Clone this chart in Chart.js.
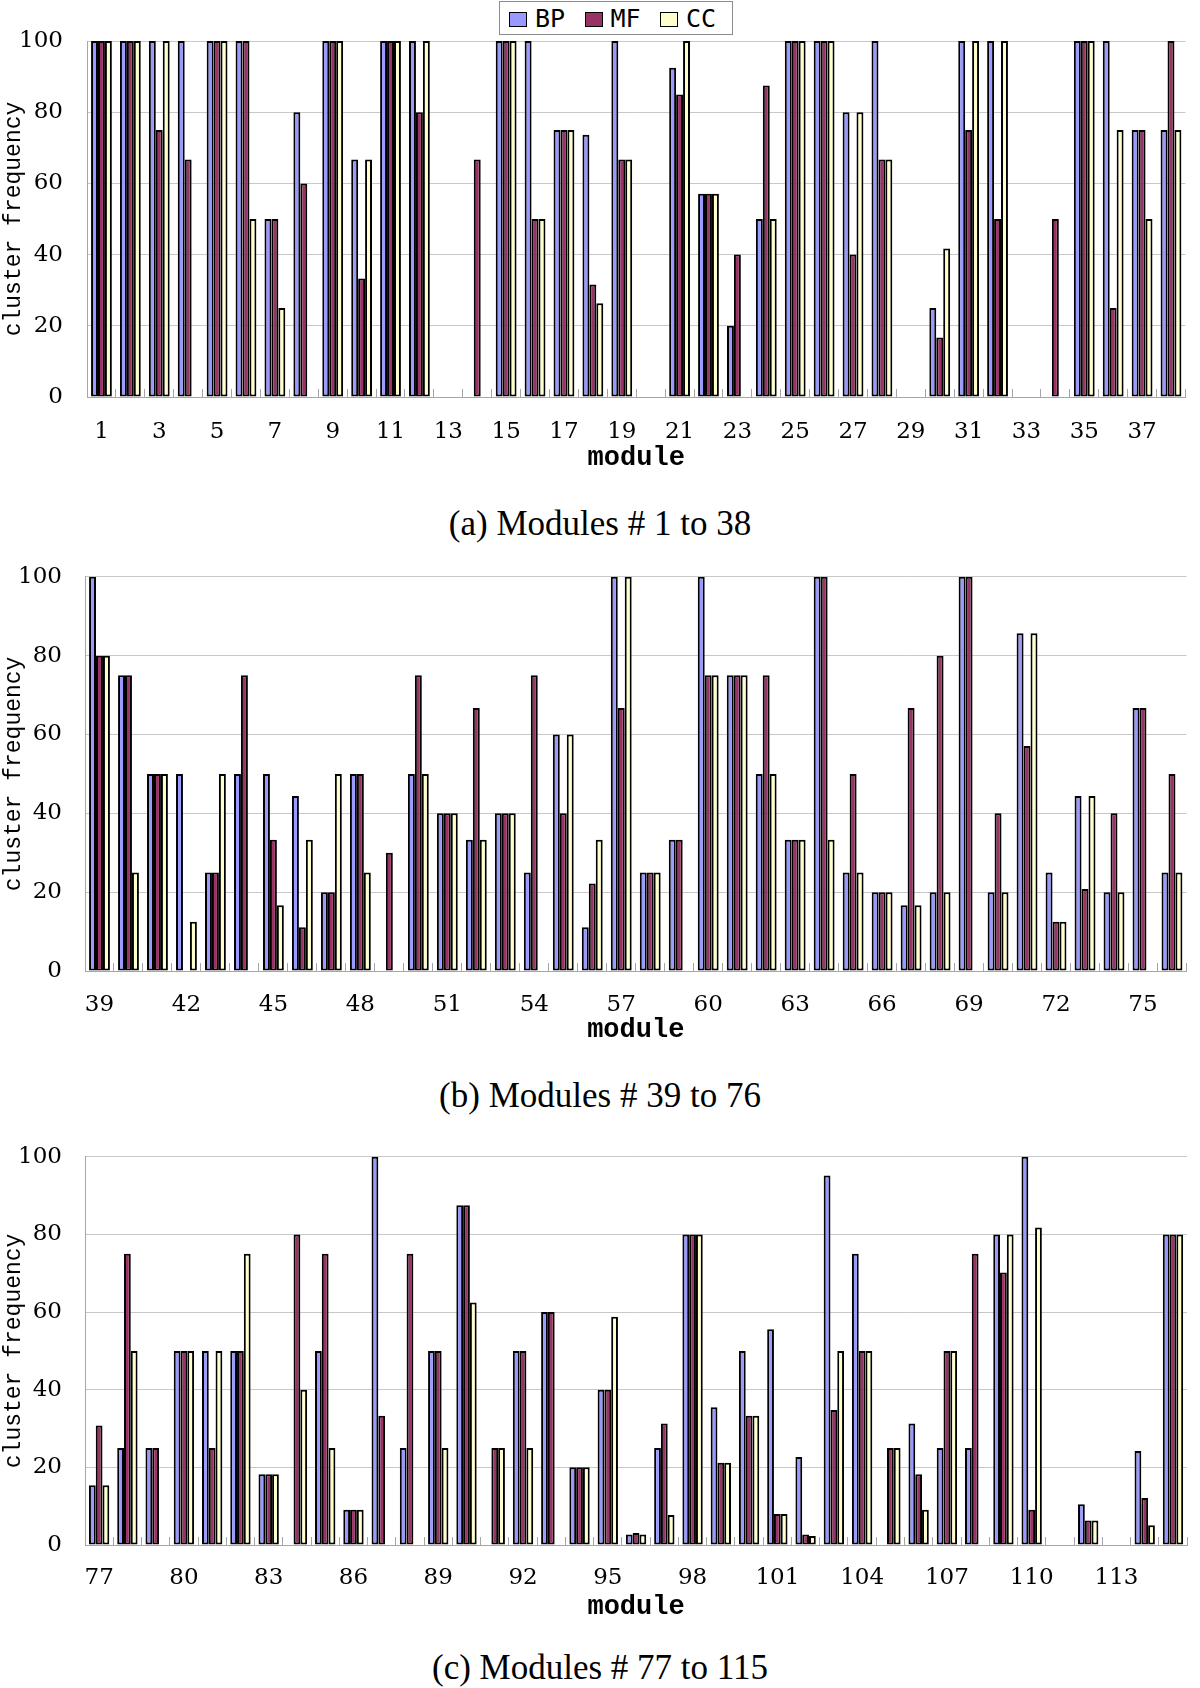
<!DOCTYPE html>
<html>
<head>
<meta charset="utf-8">
<script src="https://cdn.jsdelivr.net/npm/chart.js@4.4.1/dist/chart.umd.min.js"></script>
<style>
html, body { margin: 0; padding: 0; background: #fff; }
body { width: 1200px; height: 1688px; position: relative; overflow: hidden; }
.panel { position: absolute; left: 0; }
.caption { position: absolute; left: 0; width: 1200px; text-align: center; font-family: "Liberation Serif", serif; font-size: 35px; line-height: 40px; color: #000; }
#legend { position: absolute; left: 499px; top: 1px; width: 234px; height: 34px; box-sizing: border-box; border: 1px solid #8c8c8c; background: #fff; }
#legend .sw { position: absolute; top: 10px; width: 18px; height: 15px; box-sizing: border-box; border: 1.5px solid #000; }
#legend .lt { position: absolute; top: 4px; font-family: "DejaVu Sans Mono", monospace; font-size: 25px; line-height: 25px; color: #000; }
</style>
</head>
<body>
<div class="panel" style="top:0px"><canvas id="chartA" width="1200" height="480"></canvas></div>
<div id="legend"></div>
<div class="caption" style="top:504px">(a) Modules # 1 to 38</div>
<div class="panel" style="top:540px"><canvas id="chartB" width="1200" height="510"></canvas></div>
<div class="caption" style="top:1076px">(b) Modules # 39 to 76</div>
<div class="panel" style="top:1120px"><canvas id="chartC" width="1200" height="505"></canvas></div>
<div class="caption" style="top:1648px">(c) Modules # 77 to 115</div>
<script>
// series
const seriesNames = ["BP", "MF", "CC"];
const seriesColors = ["#9999ff", "#993366", "#ffffcc"];
const yTicks = [0, 20, 40, 60, 80, 100];

function span(a, b) {
  const out = [];
  for (let i = a; i <= b; i++) out.push(String(i));
  return out;
}

// (a) modules 1 - 38
const modulesA = span(1, 38);
const bpA = [100,100,100,100,100,100,50,80,100,66.7,100,100,0,0,100,100,75,73.7,100,0,92.5,57.1,20,50,100,100,80,100,0,25,100,100,0,0,100,100,75,75];
const mfA = [100,100,75,66.7,100,100,50,60,100,33.3,100,80,0,66.7,100,50,75,31.6,66.7,0,85,57.1,40,87.5,100,100,40,66.7,0,16.7,75,50,0,50,100,25,75,100];
const ccA = [100,100,100,0,100,50,25,0,100,66.7,100,100,0,0,100,50,75,26.3,66.7,0,100,57.1,0,50,100,100,80,66.7,0,41.7,100,100,0,0,100,75,50,75];

// (b) modules 39 - 76
const modulesB = span(39, 76);
const bpB = [100,75,50,50,25,50,50,44.4,20,50,0,50,40,33.3,40,25,60,11.1,100,25,33.3,100,75,50,33.3,100,25,20,16.7,20,100,20,85.7,25,44.4,20,66.7,25];
const mfB = [80,75,50,0,25,75,33.3,11.1,20,50,30,75,40,66.7,40,75,40,22.2,66.7,25,33.3,75,75,75,33.3,100,50,20,66.7,80,100,40,57.1,12.5,20.8,40,66.7,50];
const ccB = [80,25,50,12.5,50,0,16.7,33.3,50,25,0,50,40,33.3,40,0,60,33.3,100,25,0,75,75,50,33.3,33.3,25,20,16.7,20,0,20,85.7,12.5,44.4,20,0,25];

// (c) modules 77 - 115
const modulesC = span(77, 115);
const bpC = [15.4,25,25,50,50,50,18.2,0,50,9.1,100,25,50,87.5,0,50,60,20,40,2.7,25,80,35.5,50,55.6,22.7,95.2,75,0,31.3,25,25,80,100,0,10.5,0,24.2,80];
const mfC = [30.8,75,25,50,25,50,18.2,80,75,9.1,33.3,75,50,87.5,25,50,60,20,40,3.1,31.3,80,21.2,33.3,8,2.7,34.8,50,25,18.2,50,75,70.2,9.1,0,6.3,0,12.1,80];
const ccC = [15.4,50,0,50,50,75,18.2,40,25,9.1,0,0,25,62.5,25,25,0,20,58.8,2.7,7.7,80,21.2,33.3,8,2.3,50,50,25,9.1,50,0,80,81.8,0,6.3,0,5.1,80];

function makePanel(id, labels, values, opt) {
  const canvas = document.getElementById(id);
  return new Chart(canvas.getContext("2d"), {
    type: "bar",
    data: {
      labels: labels,
      datasets: seriesNames.map(function (name, i) {
        return {
          label: name,
          data: values[i],
          backgroundColor: seriesColors[i],
          borderColor: "#000000",
          borderWidth: 2,
          borderSkipped: false
        };
      })
    },
    options: {
      responsive: false,
      animation: false,
      devicePixelRatio: 1,
      layout: { padding: { top: opt.top, right: opt.right, left: 0, bottom: 0 } },
      datasets: { bar: { categoryPercentage: 0.72, barPercentage: 1.0 } },
      plugins: { legend: { display: false }, tooltip: { enabled: false } },
      scales: {
        x: {
          grid: { offset: true, drawOnChartArea: false, drawTicks: true, tickLength: -8, color: "#a6a6a6" },
          border: { color: "#a6a6a6" },
          ticks: {
            autoSkip: false,
            maxRotation: 0,
            minRotation: 0,
            padding: opt.tickPad,
            color: "#000",
            font: { family: "DejaVu Serif", size: 23 },
            callback: function (v, i) { return i % opt.every === 0 ? this.getLabelForValue(v) : ""; }
          },
          title: {
            display: true,
            text: "module",
            color: "#000",
            font: { family: "Liberation Mono", size: 27, weight: "bold" },
            padding: { top: 0, bottom: opt.titlePad }
          },
          afterFit: function (s) { s.height = opt.xh; }
        },
        y: {
          min: 0,
          max: 100,
          afterBuildTicks: function (s) { s.ticks = yTicks.map(function (v) { return { value: v }; }); },
          grid: { drawTicks: false, color: "#c8c8c8" },
          border: { color: "#a6a6a6" },
          ticks: { padding: opt.yPad, color: "#000", font: { family: "DejaVu Serif", size: 23 } },
          title: {
            display: true,
            text: "cluster frequency",
            color: "#000",
            font: { family: "Liberation Mono", size: 23 },
            padding: { top: 0, bottom: 0 }
          },
          afterFit: function (s) { s.width = opt.yw; }
        }
      }
    }
  });
}

const chartA = makePanel("chartA", modulesA, [bpA, mfA, ccA], { top: 41, right: 1, tickPad: 29, titlePad: 6, xh: 83, yPad: 24, yw: 87, every: 2 });
makePanel("chartB", modulesB, [bpB, mfB, ccB], { top: 36, right: 2, tickPad: 28, titlePad: 4, xh: 79, yPad: 23, yw: 85, every: 3 });
makePanel("chartC", modulesC, [bpC, mfC, ccC], { top: 31, right: 2, tickPad: 27, titlePad: 2, xh: 80, yPad: 23, yw: 85, every: 3 });

// legend built from the first chart's datasets
const legendBox = document.getElementById("legend");
chartA.data.datasets.forEach(function (ds, i) {
  const sw = document.createElement("span");
  sw.className = "sw";
  sw.style.left = (9 + i * 75.5) + "px";
  sw.style.background = ds.backgroundColor;
  legendBox.appendChild(sw);
  const tx = document.createElement("span");
  tx.className = "lt";
  tx.style.left = (35 + i * 75.5) + "px";
  tx.textContent = ds.label;
  legendBox.appendChild(tx);
});
</script>
</body>
</html>
